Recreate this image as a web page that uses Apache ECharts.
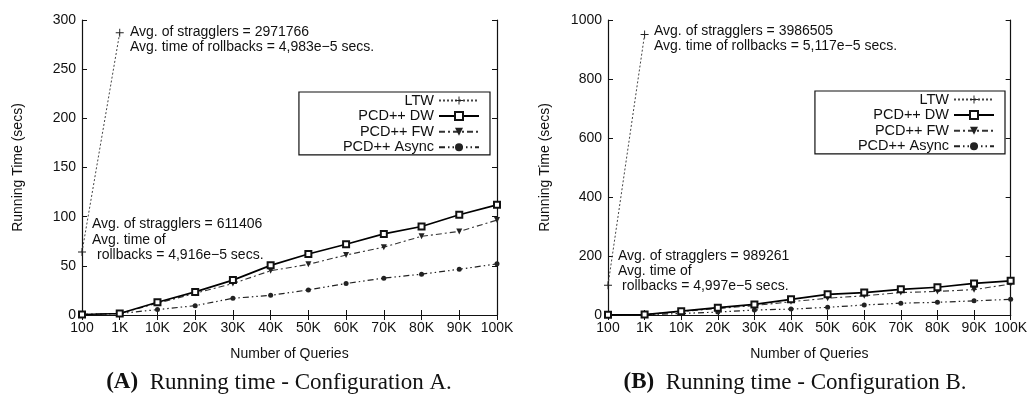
<!DOCTYPE html>
<html>
<head>
<meta charset="utf-8">
<script src="https://cdn.jsdelivr.net/npm/echarts@6/dist/echarts.min.js"></script>
<style>html,body{margin:0;padding:0;background:#fff;}#c{width:1030px;height:395px;}</style>
</head>
<body>
<div id="c"></div>
<script>
// ---- data ----
const categories = ['100','1K','10K','20K','30K','40K','50K','60K','70K','80K','90K','100K'];
const seriesNames = ['LTW','PCD++ DW','PCD++ FW','PCD++ Async'];
// Configuration A
const ltwA   = [64, 287, null, null, null, null, null, null, null, null, null, null];
const dwA    = [0.5, 1.5, 13, 23.5, 35.5, 50.5, 62, 72, 82.5, 90, 102, 112];
const fwA    = [0.5, 1.5, 12, 22, 32, 45, 51.5, 61, 69, 80, 85, 96.5];
const asyncA = [0.5, 1.5, 5.5, 9.5, 17, 20, 25.5, 32, 37.5, 41.5, 46.5, 52];
// Configuration B
const ltwB   = [101, 951, null, null, null, null, null, null, null, null, null, null];
const dwB    = [0.5, 1.5, 13, 25, 36, 53, 70, 76, 87, 94, 107, 116];
const fwB    = [0.5, 1.5, 12, 22, 32, 45, 57, 65, 76, 80, 86, 105];
const asyncB = [0.5, 1.5, 5, 10, 17, 20, 26, 34, 40, 43, 48, 53];
const yTicksA = {min: 0, max: 300, interval: 50};
const yTicksB = {min: 0, max: 1000, interval: 200};
const annotations = [
  {x: 130, y: 33, t: 'Avg. of stragglers = 2971766'},
  {x: 130, y: 48, t: 'Avg. time of rollbacks = 4,983e\u22125 secs.'},
  {x: 92,  y: 225, t: 'Avg. of stragglers = 611406'},
  {x: 92,  y: 241, t: 'Avg. time of'},
  {x: 97,  y: 256, t: 'rollbacks = 4,916e\u22125 secs.'},
  {x: 654, y: 32, t: 'Avg. of stragglers = 3986505'},
  {x: 654, y: 47, t: 'Avg. time of rollbacks = 5,117e\u22125 secs.'},
  {x: 618, y: 257, t: 'Avg. of stragglers = 989261'},
  {x: 618, y: 272, t: 'Avg. time of'},
  {x: 622, y: 287, t: 'rollbacks = 4,997e\u22125 secs.'}
];
const captions = [
  {x: 279, label: 'A', text: '  Running time - Configuration A.'},
  {x: 795, label: 'B', text: '  Running time - Configuration B.'}
];

// ---- styles ----
const FONT = 'Liberation Sans';
const plus = 'path://M0,4.4h10v1.2h-10zM4.4,0h1.2v10h-1.2z';
const styles = [
  {lineStyle: {color: '#444', width: 1, type: [2, 2]}, symbol: plus, symbolSize: 8, itemStyle: {color: '#222'}},
  {lineStyle: {color: '#000', width: 1.7, type: 'solid'}, symbol: 'emptyRect', symbolSize: 6, itemStyle: {color: '#111', borderColor: '#111', borderWidth: 1.1}},
  {lineStyle: {color: '#333', width: 1.1, type: [6, 3, 2, 3]}, symbol: 'triangle', symbolRotate: 180, symbolSize: 6, itemStyle: {color: '#222'}},
  {lineStyle: {color: '#222', width: 1.2, type: [6, 3, 1.5, 3, 1.5, 3]}, symbol: 'circle', symbolSize: 5, itemStyle: {color: '#222'}}
];

function makeSeries(arrs, idx) {
  return arrs.map((d, i) => Object.assign({
    name: seriesNames[i], type: 'line', data: d,
    xAxisIndex: idx * 2, yAxisIndex: idx * 2,
    connectNulls: false, showSymbol: true, animation: false, z: 10 - i
  }, JSON.parse(JSON.stringify(styles[i]))));
}

function xAxes(gi) {
  return [
    {type: 'category', gridIndex: gi, data: categories, boundaryGap: false, position: 'bottom',
     name: 'Number of Queries', nameLocation: 'middle', nameGap: 32,
     nameTextStyle: {fontFamily: FONT, fontSize: 14, color: '#111'},
     axisLine: {lineStyle: {color: '#111', width: 1.2}},
     axisTick: {inside: true, length: 5, lineStyle: {color: '#111'}},
     axisLabel: {fontFamily: FONT, fontSize: 14, color: '#111', margin: 6, interval: 0},
     splitLine: {show: false}},
    {type: 'category', gridIndex: gi, data: categories, boundaryGap: false, position: 'top',
     axisLine: {lineStyle: {color: '#111', width: 1.2}},
     axisTick: {inside: true, length: 5, lineStyle: {color: '#111'}},
     axisLabel: {show: false}, splitLine: {show: false}}
  ];
}
function yAxes(gi, t, gap) {
  return [
    {type: 'value', gridIndex: gi, min: t.min, max: t.max, interval: t.interval, position: 'left',
     name: 'Running Time (secs)', nameLocation: 'middle', nameGap: gap, nameRotate: 90,
     nameTextStyle: {fontFamily: FONT, fontSize: 14, color: '#111'},
     axisLine: {show: true, lineStyle: {color: '#111', width: 1.2}},
     axisTick: {show: true, inside: true, length: 5, lineStyle: {color: '#111'}},
     axisLabel: {fontFamily: FONT, fontSize: 14, color: '#111', margin: 6, formatter: v => String(v)},
     splitLine: {show: false}},
    {type: 'value', gridIndex: gi, min: t.min, max: t.max, interval: t.interval, position: 'right',
     axisLine: {show: true, lineStyle: {color: '#111', width: 1.2}},
     axisTick: {show: true, inside: true, length: 5, lineStyle: {color: '#111'}},
     axisLabel: {show: false}, splitLine: {show: false}}
  ];
}

function legend(right, top, padLeft) {
  return {
    orient: 'vertical', align: 'right', right: right, top: top,
    data: seriesNames, itemWidth: 40, itemHeight: 10, itemGap: 0.6,
    padding: [1, 10, 0, padLeft], borderColor: '#111', borderWidth: 1.2,
    selectedMode: false,
    textStyle: {fontFamily: FONT, fontSize: 14.5, color: '#111', lineHeight: 14}
  };
}

const chart = echarts.init(document.getElementById('c'), null, {renderer: 'canvas'});
chart.setOption({
  backgroundColor: '#fff',
  animation: false,
  grid: [
    {left: 82, top: 20, width: 415, height: 295},
    {left: 608, top: 20, width: 404, height: 295}
  ],
  xAxis: xAxes(0).concat(xAxes(1)),
  yAxis: yAxes(0, yTicksA, 57).concat(yAxes(1, yTicksB, 56)),
  legend: [legend(1030 - 490, 92, 44), legend(1030 - 1005, 91, 43)],
  title: captions.map(c => ({
    left: c.x, top: 371, textAlign: 'center', padding: 0,
    text: '{b|(' + c.label + ')}{n|' + c.text + '}',
    textStyle: {rich: {
      b: {fontFamily: 'Liberation Serif', fontSize: 23, fontWeight: 'bold', color: '#111'},
      n: {fontFamily: 'Liberation Serif', fontSize: 23, fontWeight: 'normal', color: '#111'}
    }}
  })),
  graphic: annotations.map(a => ({
    type: 'text', left: a.x, top: a.y - 8, z: 20,
    style: {text: a.t, font: '14px "' + FONT + '"', fill: '#111'}
  })),
  series: makeSeries([ltwA, dwA, fwA, asyncA], 0).concat(makeSeries([ltwB, dwB, fwB, asyncB], 1))
});
</script>
</body>
</html>
